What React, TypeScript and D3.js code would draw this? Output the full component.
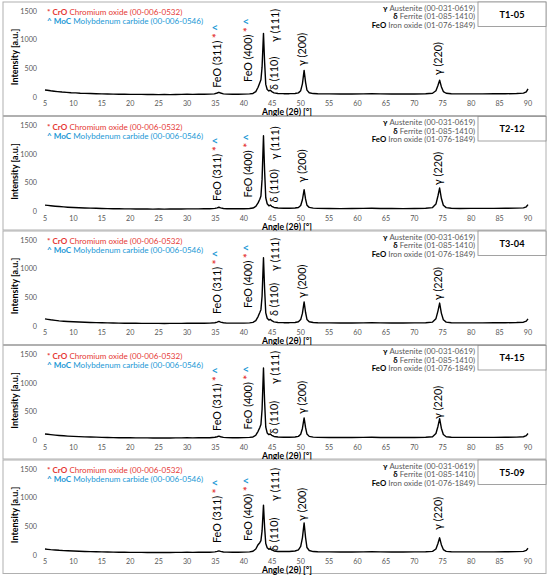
import React from 'react';
import * as d3 from 'd3';

type Pt = [number, number];

const sampleNames = ['T1-05', 'T2-12', 'T3-04', 'T4-15', 'T5-09'];

const xTicks = [5, 10, 15, 20, 25, 30, 35, 40, 45, 50, 55, 60, 65, 70, 75, 80, 85, 90];
const yTicks = [0, 500, 1000, 1500];

// diffraction patterns, [2θ, intensity]
const t105: Pt[] = [[5,122],[5.4,118],[6,108],[6.6,101],[7.2,94],[8,86],[8.8,80],[9.6,75],[10.4,72],[11.2,66],[12,63],[13,60],[14,57],[15,54],[16,52],[17,50],[18,49],[19,47],[20,46],[21,45],[22,45],[23,43],[24,44],[25,42],[26,43],[27,42],[28,44],[29,45],[30,48],[31,46],[32,47],[33,48],[34,50],[34.8,55],[35.3,70],[35.6,82],[35.9,70],[36.4,55],[37,50],[38,48],[39,49],[40,50],[41,54],[41.6,62],[42.1,95],[42.5,170],[42.8,250],[43.0,300],[43.2,520],[43.45,1110],[43.65,600],[43.85,220],[44.1,130],[44.4,105],[44.65,118],[44.9,95],[45.3,72],[46,62],[47,58],[48,58],[49,62],[49.6,72],[50.0,110],[50.3,230],[50.6,465],[50.85,260],[51.1,120],[51.5,75],[52.2,60],[53,56],[55,54],[57,52],[59,53],[61,55],[62.5,58],[64,54],[66,52],[68,52],[70,53],[72,56],[73.2,65],[73.8,110],[74.15,200],[74.45,292],[74.75,180],[75.1,95],[75.6,65],[76.5,56],[78,54],[80,54],[82,55],[84,56],[86,57],[88,60],[89.2,68],[89.7,90],[90,140]];

const t212: Pt[] = [[5,112],[5.5,106],[6,100],[6.8,92],[7.5,86],[8.3,80],[9,75],[10,70],[11,66],[12,62],[13,59],[14,56],[15,53],[16,51],[17,49],[18,48],[19,46],[20,45],[21,44],[22,44],[23,43],[24,42],[25,43],[26,42],[27,43],[28,44],[29,44],[30,46],[31,45],[32,46],[33,47],[34,48],[34.9,54],[35.3,64],[35.6,74],[35.9,64],[36.4,53],[37,49],[38,48],[39,48],[40,49],[41,52],[41.6,60],[42.1,88],[42.5,150],[42.8,215],[43.0,270],[43.2,560],[43.45,1320],[43.65,700],[43.85,240],[44.1,135],[44.4,100],[44.65,112],[44.9,90],[45.3,70],[46,60],[47,56],[48,56],[49,60],[49.6,70],[50.0,105],[50.3,205],[50.6,380],[50.85,220],[51.1,110],[51.5,72],[52.2,58],[53,55],[55,53],[57,51],[59,52],[61,54],[62.5,56],[64,53],[66,52],[68,51],[70,53],[72,56],[73.2,68],[73.8,130],[74.15,270],[74.45,410],[74.75,230],[75.1,110],[75.6,68],[76.5,56],[78,53],[80,54],[82,54],[84,55],[86,56],[88,58],[89.2,64],[89.7,82],[90,120]];

const t304: Pt[] = [[5,125],[5.5,116],[6,108],[6.8,98],[7.5,90],[8.3,84],[9,79],[10,74],[11,69],[12,65],[13,62],[14,59],[15,56],[16,54],[17,52],[18,50],[19,49],[20,48],[21,47],[22,46],[23,46],[24,45],[25,45],[26,44],[27,45],[28,46],[29,46],[30,48],[31,47],[32,48],[33,49],[34,50],[34.9,57],[35.3,68],[35.6,80],[35.9,67],[36.4,56],[37,51],[38,50],[39,50],[40,51],[41,55],[41.6,64],[42.1,95],[42.5,165],[42.8,235],[43.0,285],[43.2,520],[43.45,1190],[43.65,640],[43.85,230],[44.1,135],[44.4,104],[44.65,116],[44.9,92],[45.3,72],[46,62],[47,58],[48,58],[49,62],[49.6,74],[50.0,112],[50.3,220],[50.6,420],[50.85,240],[51.1,115],[51.5,74],[52.2,60],[53,56],[55,54],[57,53],[59,53],[61,55],[62.5,57],[64,54],[66,53],[68,52],[70,54],[72,57],[73.2,68],[73.8,128],[74.15,260],[74.45,400],[74.75,225],[75.1,108],[75.6,68],[76.5,57],[78,55],[80,55],[82,55],[84,56],[86,57],[88,60],[89.2,66],[89.7,86],[90,125]];

const t415: Pt[] = [[5,114],[5.5,108],[6,102],[6.8,94],[7.5,88],[8.3,82],[9,77],[10,72],[11,68],[12,64],[13,61],[14,58],[15,55],[16,53],[17,51],[18,49],[19,48],[20,47],[21,46],[22,45],[23,45],[24,44],[25,44],[26,43],[27,44],[28,45],[29,45],[30,47],[31,46],[32,47],[33,48],[34,49],[34.9,56],[35.3,66],[35.6,76],[35.9,65],[36.4,54],[37,50],[38,49],[39,49],[40,50],[41,54],[41.6,62],[42.1,92],[42.5,160],[42.8,225],[43.0,280],[43.2,540],[43.45,1265],[43.65,670],[43.85,235],[44.1,132],[44.4,102],[44.65,114],[44.9,90],[45.3,70],[46,61],[47,57],[48,57],[49,61],[49.6,72],[50.0,108],[50.3,210],[50.6,395],[50.85,228],[51.1,112],[51.5,72],[52.2,59],[53,55],[55,53],[57,52],[59,52],[61,54],[62.5,56],[64,53],[66,52],[68,52],[70,53],[72,56],[73.2,66],[73.8,122],[74.15,245],[74.45,380],[74.75,215],[75.1,104],[75.6,66],[76.5,56],[78,54],[80,54],[82,55],[84,55],[86,56],[88,59],[89.2,65],[89.7,84],[90,122]];

const t509: Pt[] = [[5,104],[5.5,99],[6,94],[6.8,88],[7.5,82],[8.3,77],[9,73],[10,69],[11,65],[12,62],[13,59],[14,56],[15,54],[16,52],[17,50],[18,49],[19,47],[20,46],[21,45],[22,45],[23,44],[24,44],[25,43],[26,43],[27,44],[28,45],[29,45],[30,47],[31,46],[32,47],[33,48],[34,49],[34.9,55],[35.3,64],[35.6,72],[35.9,63],[36.4,53],[37,50],[38,49],[39,49],[40,50],[41,55],[41.6,66],[42.1,105],[42.5,180],[42.8,215],[43.0,250],[43.2,420],[43.45,870],[43.65,480],[43.85,200],[44.1,128],[44.4,100],[44.65,110],[44.9,88],[45.3,70],[46,62],[47,60],[48,62],[49,70],[49.6,90],[50.0,150],[50.3,300],[50.6,560],[50.85,310],[51.1,130],[51.5,78],[52.2,60],[53,56],[55,54],[57,52],[59,53],[61,55],[62.5,57],[64,54],[66,53],[68,52],[70,54],[72,56],[73.2,64],[73.8,105],[74.15,200],[74.45,300],[74.75,180],[75.1,95],[75.6,64],[76.5,56],[78,54],[80,54],[82,55],[84,55],[86,56],[88,58],[89.2,64],[89.7,80],[90,118]];

const patterns = [t105, t212, t304, t415, t509];

// peak annotations: label, 2θ of the label column, and the intensity where the label starts
const peakLabels = ['FeO (311)', 'FeO (400)', 'γ (111)', 'δ (110)', 'γ (200)', 'γ (220)'];
const peakMarked = [true, true, false, false, false, false];
const labelAngles = [35.3, 40.7, 45.5, 45.4, 50.2, 74.2];
const labelBases = [
  [160, 262, 960, 122, 540, 380],
  [183, 244, 907, 157, 506, 460],
  [209, 314, 960, 174, 490, 450],
  [166, 192, 985, 113, 462, 375],
  [209, 244, 942, 70, 593, 436],
];

const phaseLeft = [
  { mark: '* ', code: 'CrO', name: ' Chromium oxide (00-006-0532)', color: '#e53935' },
  { mark: '^ ', code: 'MoC', name: ' Molybdenum carbide (00-006-0546)', color: '#1b98d5' },
];
const phaseRight = [
  { code: 'γ', name: ' Austenite (00-031-0619)' },
  { code: 'δ', name: ' Ferrite (01-085-1410)' },
  { code: 'FeO', name: ' Iron oxide (01-076-1849)' },
];

const FONT = 'Lato, "Open Sans", sans-serif';
const RED = '#e53935';
const BLUE = '#1b98d5';
const GREY = '#595959';

const W = 550;
const H = 583;
const PANEL_H = 114.5;

const x = d3.scaleLinear().domain([5, 90]).range([45, 528]);

const Panel: React.FC<{ index: number }> = ({ index }) => {
  const top = 2 + index * PANEL_H;
  const y = d3.scaleLinear().domain([0, 1500]).range([top + 95, top + 9]);
  const line = d3
    .line<Pt>()
    .x((d) => x(d[0]))
    .y((d) => y(d[1]));

  return (
    <g fontFamily={FONT}>
      <rect x={3} y={top} width={543} height={PANEL_H - 1} fill="#fff" stroke="#b0b0b0" strokeWidth={1} />
      <rect x={478} y={top} width={68} height={24.5} fill="#fff" stroke="#8c8c8c" strokeWidth={0.8} />
      <text x={512} y={top + 15.5} textAnchor="middle" fontSize={9.2} fontWeight="bold" fill="#000">
        {sampleNames[index]}
      </text>

      {yTicks.map((t) => (
        <text key={t} x={37} y={y(t) + 2.5} textAnchor="end" fontSize={7.2} fill={GREY}>
          {t}
        </text>
      ))}
      {xTicks.map((t) => (
        <text key={t} x={x(t)} y={top + 104} textAnchor="middle" fontSize={7.2} fill={GREY}>
          {t}
        </text>
      ))}
      <text
        transform={`translate(18,${top + 55}) rotate(-90)`}
        textAnchor="middle"
        fontSize={9}
        fontWeight="bold"
        fill="#000"
      >
        Intensity [a.u.]
      </text>
      <text x={287} y={top + 113} textAnchor="middle" fontSize={8.6} fontWeight="bold" fill="#000">
        Angle (2θ) [°]
      </text>

      {phaseLeft.map((p, i) => (
        <text key={p.code} x={47} y={top + 13 + i * 9} fontSize={8.1} fill={p.color}>
          <tspan fontWeight="bold">
            {p.mark}
            {p.code}
          </tspan>
          {p.name}
        </text>
      ))}
      {phaseRight.map((p, i) => (
        <text key={p.code} x={475} y={top + 8.5 + i * 8.6} textAnchor="end" fontSize={7.8} fill={GREY}>
          <tspan fontWeight="bold" fill="#000">
            {p.code}
          </tspan>
          {p.name}
        </text>
      ))}

      <path d={line(patterns[index]) ?? ''} fill="none" stroke="#000" strokeWidth={1.4} strokeLinejoin="round" />

      {peakLabels.map((lab, i) => (
        <text
          key={lab}
          transform={`translate(${x(labelAngles[i])},${y(labelBases[index][i])}) rotate(-90)`}
          dy="0.36em"
          fontSize={10.8}
          fill="#000"
        >
          {lab}
          {peakMarked[i] && (
            <>
              <tspan fill={RED} fontWeight="bold"> *</tspan>
              <tspan fill={BLUE} fontWeight="bold"> ^</tspan>
            </>
          )}
        </text>
      ))}
    </g>
  );
};

export default function App() {
  return (
    <svg width={W} height={H} style={{ position: 'absolute', left: 0, top: 0, background: '#fff' }}>
      {sampleNames.map((_, i) => (
        <Panel key={i} index={i} />
      ))}
    </svg>
  );
}
